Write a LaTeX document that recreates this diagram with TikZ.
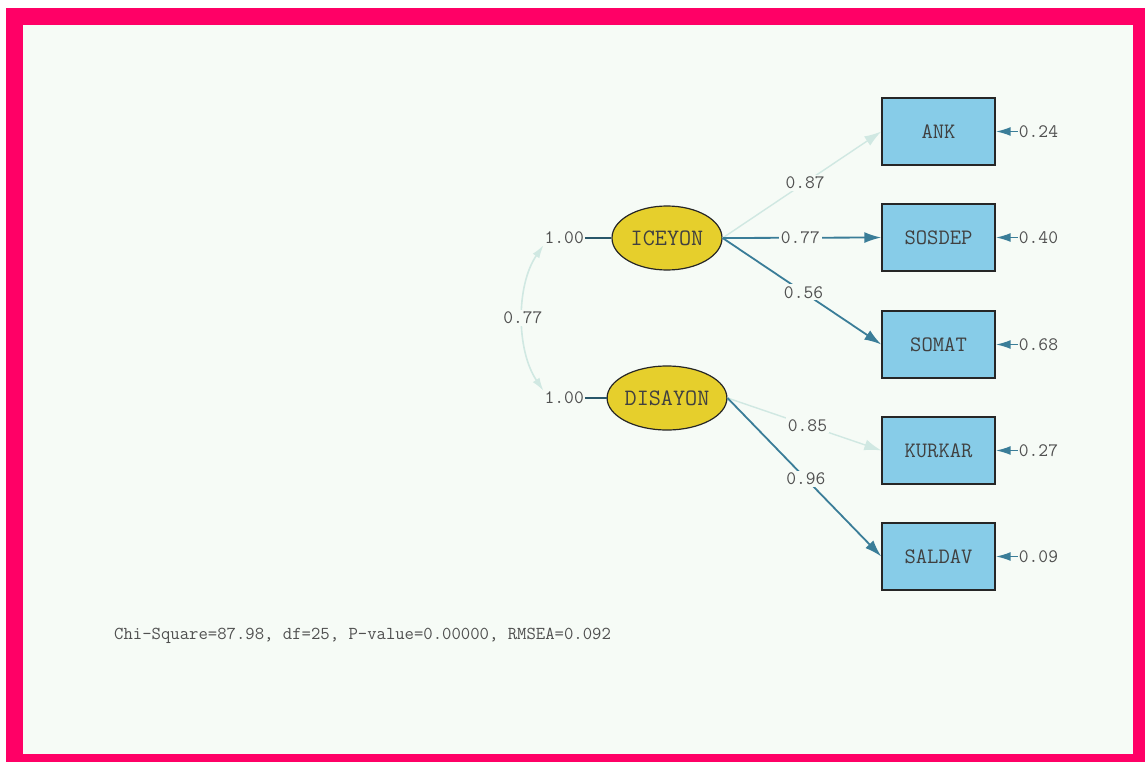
\documentclass[tikz,border=0pt]{standalone}
\usepackage{fontspec}
\usetikzlibrary{arrows.meta,shapes.geometric}
\definecolor{frame}{HTML}{FF0066}
\definecolor{bg}{HTML}{F6FBF6}
\definecolor{boxfill}{HTML}{87CCE8}
\definecolor{ellfill}{HTML}{E6CF2C}
\definecolor{teal}{HTML}{3A7D98}
\definecolor{pale}{HTML}{D0E8E2}
\definecolor{txt}{HTML}{505050}
\begin{document}
\begin{tikzpicture}[x=1pt,y=-1pt,
  obs/.style={draw=black!85,line width=1.4pt,fill=boxfill,minimum width=113pt,minimum height=67pt,inner sep=0pt,font=\ttfamily\fontsize{22}{22}\selectfont,text=black!75},
  lat/.style={ellipse,draw=black!85,line width=1.2pt,fill=ellfill,minimum width=110pt,minimum height=64pt,inner sep=0pt,font=\ttfamily\fontsize{23.5}{23}\selectfont,text=black!75},
  val/.style={font=\ttfamily\fontsize{19}{19}\selectfont,text=txt,inner sep=1pt},
  onl/.style={val,fill=bg,inner sep=2pt},
  tip/.style={-{Latex[length=17pt,width=11pt]}},
  etip/.style={-{Latex[length=15pt,width=9pt]}},
  darkpath/.style={tip,draw=teal,fill=teal,line width=1.8pt},
  errpath/.style={etip,draw=teal,fill=teal,line width=1.8pt},
  palepath/.style={tip,draw=pale,fill=pale,line width=1.4pt},
]
\useasboundingbox (0,0) rectangle (1145,762);
\fill[white] (0,0) rectangle (1145,762);
\fill[frame] (6,8) rectangle (1145,762);
\fill[bg] (23,25) rectangle (1133,754);

% observed
\node[obs] (ANK) at (938.5,131.5) {ANK};
\node[obs] (SOSDEP) at (938.5,237.5) {SOSDEP};
\node[obs] (SOMAT) at (938.5,344.5) {SOMAT};
\node[obs] (KURKAR) at (938.5,450.5) {KURKAR};
\node[obs] (SALDAV) at (938.5,556.5) {SALDAV};

% latent
\node[lat] (ICE) at (667,238) {ICEYON};
\node[lat] (DIS) at (667,398) {DISAYON};

% variances
\node[val,anchor=east] (v1) at (585,238) {1.00};
\node[val,anchor=east] (v2) at (585,398) {1.00};
\draw[teal!70!black,line width=1.2pt] (v1.east) -- (ICE.west);
\draw[teal!70!black,line width=1.2pt] (v2.east) -- (DIS.west);

% covariance
\draw[pale,line width=1.6pt,{Latex[length=13pt,width=8pt]}-{Latex[length=13pt,width=8pt]}]
  (v1.south west) .. controls (516,285) and (516,350) .. (v2.north west)
  node[onl,pos=0.5] (c) {0.77};

% loadings
\draw[palepath] (ICE.east) -- (ANK.west) node[onl,pos=0.52] (p1) {0.87};
\draw[darkpath] (ICE.east) -- (SOSDEP.west) node[onl,pos=0.49] (p2) {0.77};
\draw[darkpath] (ICE.east) -- (SOMAT.west) node[onl,pos=0.51] (p3) {0.56};
\draw[palepath] (DIS.east) -- (KURKAR.west) node[onl,pos=0.52] (p4) {0.85};
\draw[darkpath] (DIS.east) -- (SALDAV.west) node[onl,pos=0.51] (p5) {0.96};

% errors
\foreach \n/\v in {ANK/0.24,SOSDEP/0.40,SOMAT/0.68,KURKAR/0.27,SALDAV/0.09}{
  \node[val,anchor=west] (e\n) at ([xshift=22pt]\n.east) {\v};
  \draw[errpath] (e\n.west) -- (\n.east);
}

\node[val,anchor=west,font=\ttfamily\fontsize{18.2}{18}\selectfont] (chi) at (113,636) {Chi-Square=87.98, df=25, P-value=0.00000, RMSEA=0.092};
\end{tikzpicture}
\end{document}
